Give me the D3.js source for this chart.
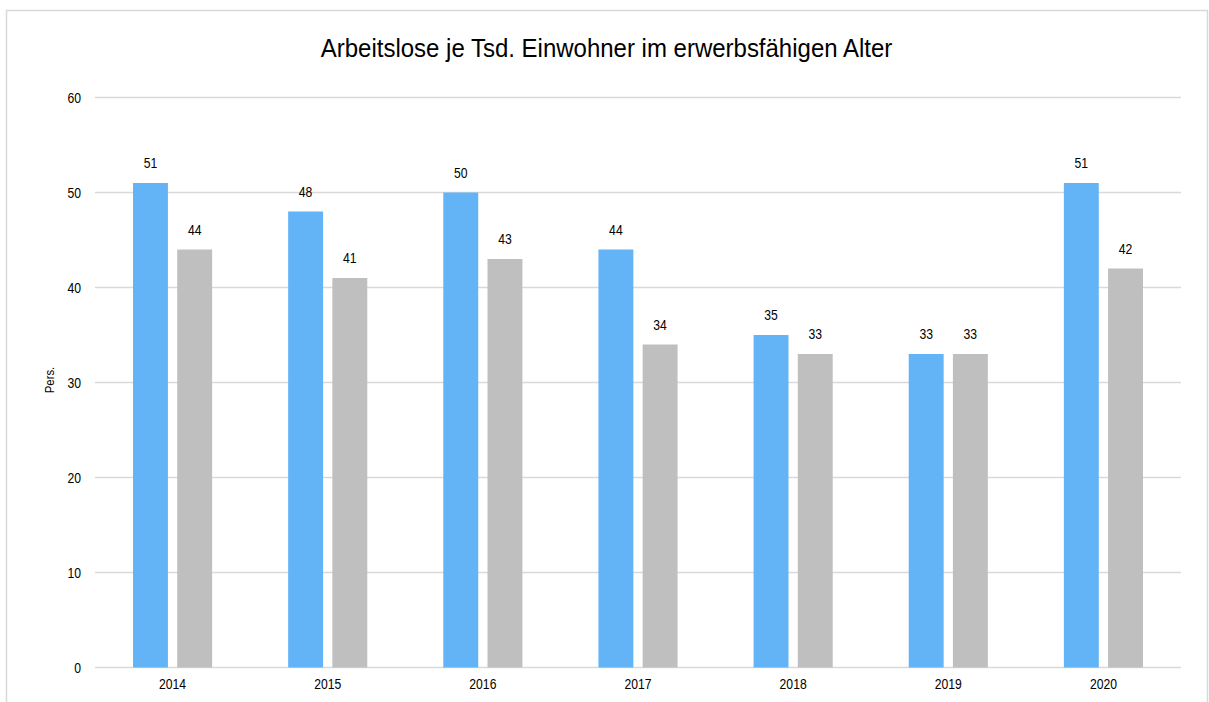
<!DOCTYPE html>
<html>
<head>
<meta charset="utf-8">
<script src="https://cdn.jsdelivr.net/npm/d3@7"></script>
<style>
  html, body { margin: 0; padding: 0; background: #fff; }
  svg { display: block; font-family: "Liberation Sans", Arial, sans-serif; }
</style>
</head>
<body>
<svg id="chart" width="1209" height="702"></svg>
<script>
// Chart data
const years = ["2014", "2015", "2016", "2017", "2018", "2019", "2020"];
const seriesA = [51, 48, 50, 44, 35, 33, 51];
const seriesB = [44, 41, 43, 34, 33, 33, 42];
const yTicks = [0, 10, 20, 30, 40, 50, 60];
const seriesColors = ["#63b4f6", "#bfbfbf"];

const svg = d3.select("#chart");
const plot = { left: 95, right: 1181, top: 97.5, bottom: 667.5 };
const FONT = "Liberation Sans, Arial, sans-serif";
const LABEL_SIZE = 14.5;

// Narrow the glyphs horizontally (condensed look) while keeping anchor positions
function condense(sel, sx) {
  sel.each(function () {
    const w = this.getComputedTextLength();
    this.setAttribute("textLength", w * sx);
    this.setAttribute("lengthAdjust", "spacingAndGlyphs");
  });
}

// Outer frame
svg.append("rect")
  .attr("x", 6.5).attr("y", 10.5)
  .attr("width", 1201).attr("height", 720)
  .attr("fill", "#fff")
  .attr("stroke", "#d9d9d9").attr("stroke-width", 1.5);

// Title
svg.append("text")
  .attr("x", 606.5).attr("y", 57)
  .attr("text-anchor", "middle")
  .attr("font-size", 26.5)
  .attr("fill", "#000")
  .text("Arbeitslose je Tsd. Einwohner im erwerbsfähigen Alter")
  .call(condense, 0.905);

const x = d3.scaleBand().domain(years).range([plot.left, plot.right]).paddingInner(0.49).paddingOuter(0.245);
const x1 = d3.scaleBand().domain([0, 1]).range([0, x.bandwidth()]).paddingInner(0.21);
const y = d3.scaleLinear().domain([0, 60]).range([plot.bottom, plot.top]);

// Gridlines
svg.append("g").selectAll("line")
  .data(yTicks)
  .join("line")
  .attr("x1", plot.left).attr("x2", plot.right)
  .attr("y1", d => y(d)).attr("y2", d => y(d))
  .attr("stroke", "#d9d9d9").attr("stroke-width", 1.5);

// Y axis labels
const yAxis = d3.axisLeft(y).tickValues(yTicks).tickSize(0).tickPadding(14);
svg.append("g")
  .attr("transform", `translate(${plot.left},0)`)
  .call(yAxis)
  .call(g => g.select(".domain").remove())
  .call(g => g.selectAll("text").attr("font-size", LABEL_SIZE).attr("fill", "#000")
    .attr("font-family", FONT).call(condense, 0.84));

// X axis labels
const xAxis = d3.axisBottom(x).tickSize(0).tickPadding(14);
svg.append("g")
  .attr("transform", `translate(0,${plot.bottom})`)
  .call(xAxis)
  .call(g => g.select(".domain").remove())
  .call(g => g.selectAll("text").attr("font-size", LABEL_SIZE).attr("fill", "#000")
    .attr("font-family", FONT).attr("dy", "0.55em").call(condense, 0.84));

// Y axis title
svg.append("text")
  .attr("transform", "translate(54,380) rotate(-90)")
  .attr("text-anchor", "middle")
  .attr("font-size", 13.5)
  .attr("fill", "#000")
  .text("Pers.")
  .call(condense, 0.84);

// Bars
const rows = years.map((yr, i) => ({ year: yr, vals: [seriesA[i], seriesB[i]] }));
const groups = svg.append("g").selectAll("g")
  .data(rows)
  .join("g")
  .attr("transform", d => `translate(${x(d.year)},0)`);

groups.selectAll("rect")
  .data(d => d.vals.map((v, k) => ({ k, v })))
  .join("rect")
  .attr("x", d => x1(d.k))
  .attr("width", x1.bandwidth())
  .attr("y", d => y(d.v))
  .attr("height", d => y(0) - y(d.v))
  .attr("fill", d => seriesColors[d.k]);

// Value labels
groups.selectAll("text")
  .data(d => d.vals.map((v, k) => ({ k, v })))
  .join("text")
  .attr("x", d => x1(d.k) + x1.bandwidth() / 2)
  .attr("y", d => y(d.v) - 15)
  .attr("text-anchor", "middle")
  .attr("font-size", LABEL_SIZE)
  .attr("fill", "#000")
  .text(d => d.v)
  .call(condense, 0.84);
</script>
</body>
</html>
